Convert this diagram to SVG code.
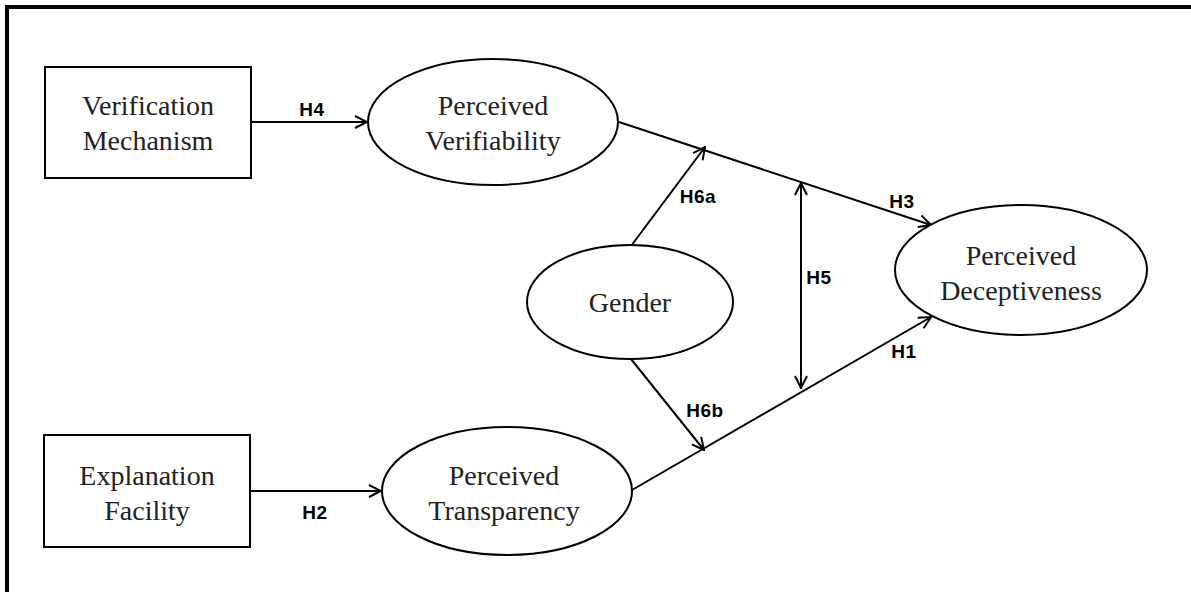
<svg xmlns="http://www.w3.org/2000/svg" width="1191" height="592" viewBox="0 0 1191 592">
<style>
.node{fill:#fff;stroke:#000;stroke-width:2}
.t{font-family:"Liberation Serif","Times New Roman",serif;font-size:28px;fill:#222;text-anchor:middle}
.lbl{font-family:"Liberation Sans",Arial,sans-serif;font-size:19px;font-weight:bold;fill:#000;text-anchor:middle;letter-spacing:0.5px}
.c{fill:none;stroke:#000;stroke-width:2}
</style>
<defs>
<marker id="arr" viewBox="0 0 14 14" refX="13" refY="7" markerWidth="14" markerHeight="14" markerUnits="userSpaceOnUse" orient="auto-start-reverse">
<path d="M1,1 L13,7 L1,13" fill="none" stroke="#000" stroke-width="2"/>
</marker>
</defs>
<rect width="1191" height="592" fill="#fff"/>
<path d="M7,592 V7 H1191" fill="none" stroke="#000" stroke-width="4"/>
<g id="connectors">
<line class="c" x1="251" y1="122" x2="367" y2="122" marker-end="url(#arr)"/>
<line class="c" x1="250" y1="491" x2="381" y2="491" marker-end="url(#arr)"/>
<line class="c" x1="619" y1="122" x2="931" y2="225" marker-end="url(#arr)"/>
<line class="c" x1="632" y1="490" x2="931" y2="317" marker-end="url(#arr)"/>
<line class="c" x1="631" y1="246" x2="705" y2="147" marker-end="url(#arr)"/>
<line class="c" x1="631" y1="359" x2="704" y2="450" marker-end="url(#arr)"/>
<line class="c" x1="801" y1="183" x2="801" y2="388" marker-start="url(#arr)" marker-end="url(#arr)"/>
<text class="lbl" x="312" y="116">H4</text>
<text class="lbl" x="315" y="519">H2</text>
<text class="lbl" x="902" y="208">H3</text>
<text class="lbl" x="904" y="358">H1</text>
<text class="lbl" x="698" y="203">H6a</text>
<text class="lbl" x="705" y="417">H6b</text>
<text class="lbl" x="819" y="284">H5</text>
</g>
<g id="verification-mechanism">
<rect class="node" x="45" y="67" width="206" height="111"/>
<text class="t" x="148" y="115">Verification</text>
<text class="t" x="148" y="150">Mechanism</text>
</g>
<g id="explanation-facility">
<rect class="node" x="44" y="435" width="206" height="112"/>
<text class="t" x="147" y="485">Explanation</text>
<text class="t" x="147" y="520">Facility</text>
</g>
<g id="perceived-verifiability">
<ellipse class="node" cx="493" cy="122" rx="125" ry="63"/>
<text class="t" x="493" y="115">Perceived</text>
<text class="t" x="493" y="150">Verifiability</text>
</g>
<g id="perceived-transparency">
<ellipse class="node" cx="507" cy="491" rx="125" ry="64"/>
<text class="t" x="504" y="485">Perceived</text>
<text class="t" x="504" y="520">Transparency</text>
</g>
<g id="gender">
<ellipse class="node" cx="630" cy="302" rx="103" ry="57"/>
<text class="t" x="630" y="312">Gender</text>
</g>
<g id="perceived-deceptiveness">
<ellipse class="node" cx="1021" cy="270" rx="126" ry="65"/>
<text class="t" x="1021" y="265">Perceived</text>
<text class="t" x="1021" y="300">Deceptiveness</text>
</g>
</svg>
